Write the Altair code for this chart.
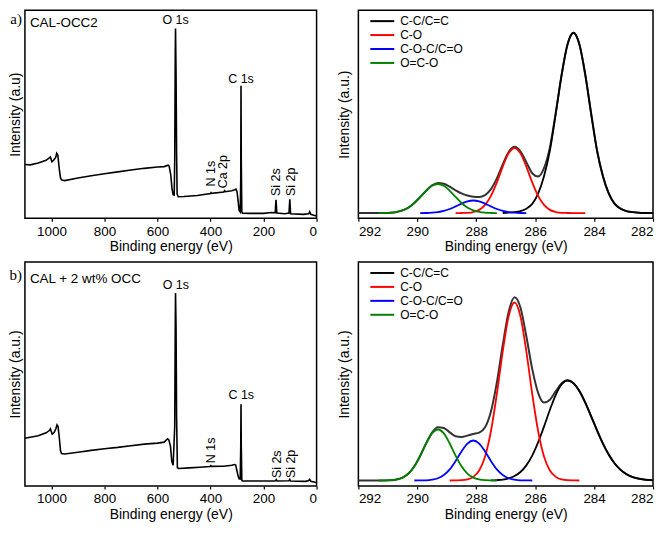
import altair as alt
import pandas as pd

SANS = "Liberation Sans"
SERIF = "Liberation Serif"

# ---------------- survey spectra (left column) ----------------
survey_a_ev = [1100, 1080, 1050, 1020, 1008, 1004, 998, 992, 984, 980, 976, 970, 966, 962, 950,
               900, 850, 800, 750, 700, 650, 600, 575, 560, 556, 550, 545, 541, 537, 535, 533,
               532, 530, 528, 526, 522, 500, 450, 400, 398, 396, 350, 347, 344, 320, 308, 304,
               300, 296, 292, 288, 286, 285, 284, 282, 280, 250, 200, 170, 156, 153, 150, 120,
               104, 101, 98, 50, 30, 26, 22, 10, 0]
survey_a_int = [55.7, 55.3, 57.3, 60.0, 62.5, 63.5, 58.5, 60.0, 63.0, 67.3, 65.5, 50.0, 42.0, 39.7, 39.0,
                41.7, 44.0, 46.0, 48.0, 50.0, 51.7, 53.0, 53.5, 55.0, 54.0, 45.0, 30.0, 24.5, 24.0, 60.0, 170.0,
                196.7, 150.0, 70.0, 25.0, 22.3, 22.5, 23.5, 25.5, 26.5, 25.8, 27.2, 28.5, 27.5, 28.5, 29.5, 30.2,
                27.5, 18.0, 8.0, 6.5, 40.0, 137.3, 60.0, 7.0, 5.3, 5.0, 5.0, 6.0, 5.7, 19.0, 5.3, 4.7,
                5.3, 19.7, 4.7, 4.0, 4.6, 6.7, 4.0, 3.0, 2.3]

survey_b_ev = [1100, 1050, 1020, 1008, 1004, 997, 990, 983, 979, 975, 970, 966, 962, 950,
               900, 850, 800, 750, 700, 650, 600, 575, 562, 557, 551, 546, 541, 535, 533, 532,
               530, 528, 525, 520, 480, 440, 402, 399, 396, 350, 320, 310, 305, 300, 296, 292,
               288, 286, 285, 284, 282, 280, 250, 200, 160, 155, 152, 149, 104, 101, 98, 40,
               30, 26, 22, 10, 0]
survey_b_int = [48.3, 50.7, 53.7, 56.0, 57.7, 52.3, 54.0, 58.0, 61.7, 60.0, 48.0, 36.0, 32.7, 32.3,
                34.0, 36.0, 37.7, 39.0, 40.7, 42.3, 43.3, 44.3, 47.7, 46.5, 40.0, 25.0, 21.0, 60.0, 160.0, 195.0,
                160.0, 70.0, 18.5, 17.7, 18.3, 19.0, 19.7, 20.6, 19.8, 20.0, 21.0, 21.7, 21.2, 15.0, 10.0, 7.3,
                7.0, 40.0, 82.7, 40.0, 6.0, 5.0, 5.0, 5.0, 5.0, 5.2, 6.5, 5.0, 5.3, 6.6, 5.0, 4.7,
                5.5, 6.7, 4.8, 4.0, 3.3]

# peak annotations (horizontal)
lab_a_text = ["O 1s", "C 1s"]
lab_a_ev = [532, 285]
lab_a_int = [201, 140]
lab_b_text = ["O 1s", "C 1s"]
lab_b_ev = [531, 284]
lab_b_int = [199, 88]
# peak annotations (vertical)
rot_a_text = ["N 1s", "Ca 2p", "Si 2s", "Si 2p"]
rot_a_ev = [399, 353, 152, 98]
rot_a_int = [33, 31, 23, 23]
rot_b_text = ["N 1s", "Si 2s", "Si 2p"]
rot_b_ev = [399, 151, 96]
rot_b_int = [23, 8, 8]

survey_ticks = [0, 100, 200, 300, 400, 500, 600, 700, 800, 900, 1000]

# ---------------- C 1s high resolution (right column) ----------------
comp_names = ["C-C/C=C", "C-O", "C-O-C/C=O", "O=C-O"]
comp_colors = ["#000000", "#ff0000", "#0000ff", "#008000"]
c1s_ticks = [282, 283, 284, 285, 286, 287, 288, 289, 290, 291, 292]

env_a_ev = [282.0, 282.1, 282.3, 282.5, 282.7, 282.9, 283.1, 283.3, 283.5, 283.7, 283.9, 284.1, 284.3,
            284.5, 284.7, 284.9, 285.1, 285.3, 285.5, 285.7, 285.9, 286.1, 286.3, 286.5, 286.7, 286.9,
            287.1, 287.3, 287.5, 287.7, 287.9, 288.1, 288.3, 288.5, 288.7, 288.9, 289.1, 289.3, 289.5,
            289.7, 289.9, 290.1, 290.3, 290.5, 290.7, 290.9, 291.1, 291.5, 292.0]
env_a_int = [0, 0, 0.1, 0.4, 1.0, 2.0, 4.5, 9.5, 20.0, 38.0, 64.5, 102.7, 142.8,
             174.1, 186.0, 174.2, 143.1, 103.8, 67.8, 46.4, 37.7, 41.1, 52.5, 63.7, 68.4, 63.0,
             50.2, 35.8, 24.7, 18.6, 16.6, 16.9, 18.1, 20.3, 23.5, 27.2, 30.3, 31.0, 28.5,
             23.1, 16.6, 10.4, 5.7, 2.8, 1.2, 0.4, 0.1, 0, 0]

cc_a_ev = [282.0, 282.1, 282.3, 282.5, 282.7, 282.9, 283.1, 283.3, 283.5, 283.7, 283.9, 284.1, 284.3,
           284.5, 284.7, 284.9, 285.1, 285.3, 285.5, 285.7, 285.9, 286.1, 286.3, 286.5, 286.7, 286.9, 287.1]
cc_a_int = [0, 0, 0.1, 0.4, 1.0, 2.0, 4.5, 9.5, 20.0, 38.0, 64.5, 102.7, 142.8,
            174.1, 186.0, 174.1, 142.8, 102.7, 64.5, 38.0, 20.0, 9.5, 4.5, 2.0, 1.0, 0.4, 0.1]
co_a_ev = [284.3, 284.5, 284.7, 284.9, 285.1, 285.3, 285.5, 285.7, 285.9, 286.1, 286.3, 286.5, 286.7,
           286.9, 287.1, 287.3, 287.5, 287.7, 287.9, 288.1, 288.3, 288.5, 288.7]
co_a_int = [0, 0, 0, 0.1, 0.3, 1.1, 3.3, 8.4, 17.7, 31.6, 48.0, 61.6, 67.0,
            61.6, 48.0, 31.6, 17.7, 8.4, 3.3, 1.1, 0.3, 0.1, 0]
coc_a_ev = [286.3, 286.5, 286.7, 286.9, 287.1, 287.3, 287.5, 287.7, 287.9, 288.1, 288.3, 288.5, 288.7,
            288.9, 289.1, 289.3, 289.5, 289.7, 289.9]
coc_a_int = [0, 0.1, 0.4, 1.0, 2.2, 4.2, 6.9, 9.8, 12.1, 13.0, 12.1, 9.8, 6.9,
             4.2, 2.2, 1.0, 0.4, 0.1, 0]
oco_a_ev = [287.3, 287.5, 287.7, 287.9, 288.1, 288.3, 288.5, 288.7, 288.9, 289.1, 289.3, 289.5, 289.7,
            289.9, 290.1, 290.3, 290.5, 290.7, 290.9, 291.1, 291.3]
oco_a_int = [0, 0.1, 0.4, 1.2, 2.8, 5.7, 10.4, 16.6, 23.0, 28.1, 30.0, 28.1, 23.0,
             16.6, 10.4, 5.7, 2.8, 1.2, 0.4, 0.1, 0]

env_b_ev = env_a_ev
env_b_int = [0.2, 0.4, 0.9, 1.9, 3.5, 6.3, 10.6, 17.0, 25.8, 36.9, 50.1, 64.2, 77.9,
             89.5, 97.3, 100.3, 97.3, 89.3, 80.7, 77.9, 87.6, 111.6, 144.3, 173.0, 183.2, 168.6,
             135.5, 98.2, 69.1, 53.3, 47.9, 46.5, 44.9, 43.5, 44.3, 48.1, 52.5, 53.2, 47.9,
             37.2, 24.8, 14.2, 6.9, 2.9, 1.0, 0.3, 0.1, 0, 0]
cc_b_ev = [282.0, 282.1, 282.3, 282.5, 282.7, 282.9, 283.1, 283.3, 283.5, 283.7, 283.9, 284.1, 284.3,
           284.5, 284.7, 284.9, 285.1, 285.3, 285.5, 285.7, 285.9, 286.1, 286.3, 286.5, 286.7, 286.9,
           287.1, 287.3, 287.5]
cc_b_int = [0.2, 0.4, 0.9, 1.9, 3.5, 6.3, 10.6, 17.0, 25.8, 36.9, 50.1, 64.2, 77.9,
            89.5, 97.3, 100.0, 96.2, 85.7, 70.7, 53.9, 38.1, 24.9, 15.1, 8.5, 4.4, 2.1,
            0.9, 0.4, 0.1]
co_b_ev = [284.5, 284.7, 284.9, 285.1, 285.3, 285.5, 285.7, 285.9, 286.1, 286.3, 286.5, 286.7, 286.9,
           287.1, 287.3, 287.5, 287.7, 287.9, 288.1, 288.3, 288.5, 288.7, 288.9]
co_b_int = [0, 0.1, 0.3, 1.1, 3.6, 10.0, 24.0, 49.5, 86.7, 129.2, 164.3, 178.0, 164.3,
            129.2, 86.7, 49.5, 24.0, 10.0, 3.6, 1.1, 0.3, 0.1, 0]
coc_b_ev = [286.1, 286.3, 286.5, 286.7, 286.9, 287.1, 287.3, 287.5, 287.7, 287.9, 288.1, 288.3, 288.5,
            288.7, 288.9, 289.1, 289.3, 289.5, 289.7, 289.9, 290.1]
coc_b_int = [0, 0.1, 0.2, 0.8, 2.2, 5.4, 11.1, 19.5, 29.0, 36.9, 40.0, 36.9, 29.0,
             19.5, 11.1, 5.4, 2.2, 0.8, 0.2, 0.1, 0]
oco_b_ev = [287.3, 287.5, 287.7, 287.9, 288.1, 288.3, 288.5, 288.7, 288.9, 289.1, 289.3, 289.5, 289.7,
            289.9, 290.1, 290.3, 290.5, 290.7, 290.9, 291.1, 291.3]
oco_b_int = [0, 0.1, 0.3, 1.0, 2.9, 6.9, 14.2, 24.8, 37.0, 47.1, 51.0, 47.1, 37.0,
             24.8, 14.2, 6.9, 2.9, 1.0, 0.3, 0.1, 0]

# ---------------- layout ----------------
W_LEFT, W_RIGHT = 293, 296
H_A, H_B = 209, 225


def x_axis(values, step2):
    return alt.Axis(values=values, format="d",
                    labelExpr=f"datum.value % {step2} === 0 ? datum.label : ''",
                    tickSize=3, tickWidth=1.2, tickColor="black", labelPadding=3,
                    titlePadding=2, domain=False, grid=False, labelOverlap=False)


def y_axis(title, pad):
    return alt.Axis(labels=False, ticks=False, domain=False, grid=False,
                    title=title, titlePadding=pad)


def survey_panel(ev, inten, ymax, h, tag, sample, sample_y, ytitle,
                 lt, le, li, rt, re, ri):
    xs = alt.Scale(domain=[1100, 0], nice=False, zero=False)
    ys = alt.Scale(domain=[0, ymax], nice=False, zero=False)
    df = pd.DataFrame({"ev": ev, "i": inten})
    line = alt.Chart(df).mark_line(color="black", strokeWidth=1.6).encode(
        x=alt.X("ev:Q", scale=xs, axis=x_axis(survey_ticks, 200), title="Binding energy (eV)"),
        y=alt.Y("i:Q", scale=ys, axis=y_axis(ytitle, 2), title=ytitle),
    )
    lab = alt.Chart(pd.DataFrame({"t": lt, "ev": le, "i": li})).mark_text(
        font=SANS, fontSize=12.5, baseline="alphabetic", color="black"
    ).encode(x=alt.X("ev:Q", scale=xs), y=alt.Y("i:Q", scale=ys), text="t:N")
    rot = alt.Chart(pd.DataFrame({"t": rt, "ev": re, "i": ri})).mark_text(
        font=SANS, fontSize=12.5, angle=270, align="left", baseline="middle", color="black"
    ).encode(x=alt.X("ev:Q", scale=xs), y=alt.Y("i:Q", scale=ys), text="t:N")
    samp = alt.Chart(pd.DataFrame({"t": [sample]})).mark_text(
        font=SANS, fontSize=13.5, align="left", baseline="alphabetic", x=5, y=sample_y, color="black"
    ).encode(text="t:N")
    tg = alt.Chart(pd.DataFrame({"t": [tag]})).mark_text(
        font=SERIF, fontSize=15, align="right", baseline="alphabetic", x=-3, y=sample_y - 3, color="black"
    ).encode(text="t:N")
    return alt.layer(line, lab, rot, samp, tg).properties(width=W_LEFT, height=h)


def c1s_panel(env_ev, env_int, comps, ymin, ymax, h):
    xs = alt.Scale(domain=[292, 282], nice=False, zero=False)
    ys = alt.Scale(domain=[ymin, ymax], nice=False, zero=False)
    env = alt.Chart(pd.DataFrame({"ev": env_ev, "i": env_int})).mark_line(
        color="#333333", strokeWidth=2, interpolate="monotone"
    ).encode(
        x=alt.X("ev:Q", scale=xs, axis=x_axis(c1s_ticks, 2), title="Binding energy (eV)"),
        y=alt.Y("i:Q", scale=ys, axis=y_axis("Intensity (a.u.)", 7), title="Intensity (a.u.)"),
    )
    rows = []
    for name, (evs, ints) in zip(comp_names, comps):
        for e, v in zip(evs, ints):
            rows.append({"ev": e, "i": v, "c": name})
    cdf = pd.DataFrame(rows)
    comp = alt.Chart(cdf).mark_line(strokeWidth=1.8, interpolate="monotone").encode(
        x=alt.X("ev:Q", scale=xs),
        y=alt.Y("i:Q", scale=ys),
        color=alt.Color("c:N", scale=alt.Scale(domain=comp_names, range=comp_colors),
                        legend=alt.Legend(title=None, orient="none", legendX=17, legendY=4,
                                          symbolType="M-2,0H2", symbolSize=144, symbolStrokeWidth=2,
                                          labelFont=SANS, labelFontSize=12, labelColor="black",
                                          rowPadding=1, labelOffset=11, padding=0)),
    )
    return alt.layer(env, comp).properties(width=W_RIGHT, height=h)


sa = survey_panel(survey_a_ev, survey_a_int, 215.6, H_A, "a)", "CAL-OCC2", 17, "Intensity (a.u)",
                  lab_a_text, lab_a_ev, lab_a_int, rot_a_text, rot_a_ev, rot_a_int)
sb = survey_panel(survey_b_ev, survey_b_int, 226.3, H_B, "b)", "CAL + 2 wt% OCC", 21, "Intensity (a.u.)",
                  lab_b_text, lab_b_ev, lab_b_int, rot_b_text, rot_b_ev, rot_b_int)
ra = c1s_panel(env_a_ev, env_a_int,
               [(cc_a_ev, cc_a_int), (co_a_ev, co_a_int), (coc_a_ev, coc_a_int), (oco_a_ev, oco_a_int)],
               -5.3, 209.3, H_A)
rb = c1s_panel(env_b_ev, env_b_int,
               [(cc_b_ev, cc_b_int), (co_b_ev, co_b_int), (coc_b_ev, coc_b_int), (oco_b_ev, oco_b_int)],
               -5.5, 218.5, H_B)

row_a = (alt.hconcat(sa, ra, spacing=16)
         .resolve_scale(color="independent").resolve_legend(color="independent"))
row_b = (alt.hconcat(sb, rb, spacing=16)
         .resolve_scale(color="independent").resolve_legend(color="independent"))

chart = (
    alt.vconcat(row_a, row_b, spacing=6)
    .resolve_scale(color="independent")
    .resolve_legend(color="independent")
    .properties(padding=0)
    .configure_view(stroke="black", strokeWidth=1.5)
    .configure_axis(labelFont=SANS, titleFont=SANS, labelFontSize=13.5, titleFontSize=14,
                    titleFontWeight="normal", labelColor="black", titleColor="black")
)

chart.save("out.html", embed_options={"renderer": "svg", "actions": False})
